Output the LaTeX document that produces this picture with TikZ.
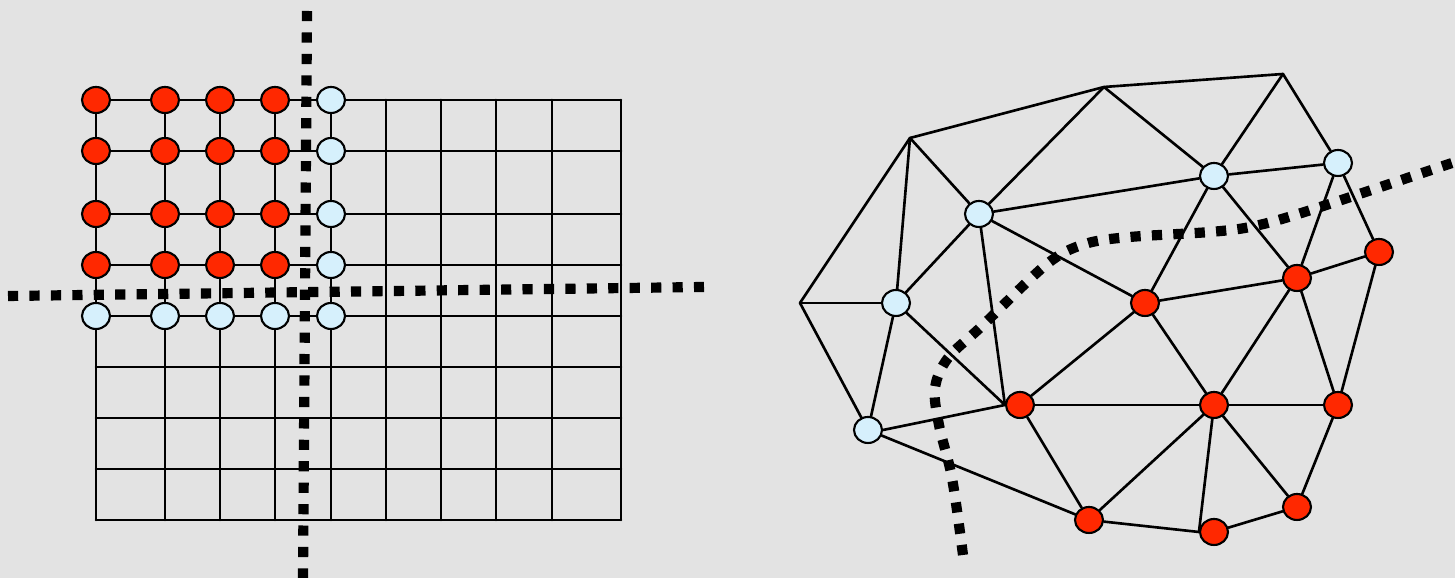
\documentclass[tikz,border=0pt]{standalone}
\usepackage{tikz}
\usetikzlibrary{shapes.geometric, positioning, calc}

\definecolor{bggray}{RGB}{227,227,227}
\definecolor{partred}{RGB}{255,40,0}
\definecolor{haloblue}{RGB}{214,240,252}

\begin{document}
\begin{tikzpicture}[x=0.1mm, y=-0.1mm, line join=round,
    mesh/.style={line width=0.75pt, line cap=round},
    own/.style={ellipse, draw, line width=0.6pt, fill=partred,
        minimum width=2.8mm, minimum height=2.6mm, inner sep=0pt},
    halo/.style={own, fill=haloblue},
    cut/.style={line width=2.9pt, dash pattern=on 2.9pt off 3.2pt}]

    % Background
    \fill[bggray] (0,0) rectangle (1455,578);
    \useasboundingbox (0,0) rectangle (1455,578);

    % Structured grid: coordinates
    \foreach \x [count=\i] in {96,165,220,275,331,386,441,496,552,621}
        \foreach \y [count=\j] in {100,151,214,265,316,367,418,469,520}
            \coordinate (g-\i-\j) at (\x,\y);

    % Grid lines
    \foreach \i in {1,...,10}
        \draw[mesh] (g-\i-1) -- (g-\i-9);
    \foreach \j in {1,...,9}
        \draw[mesh] (g-1-\j) -- (g-10-\j);

    % Owned and halo points of the grid
    \foreach \i in {1,...,4}
        \foreach \j in {1,...,4}
            \node[own] (n-\i-\j) at (g-\i-\j) {};
    \foreach \j in {1,...,5}
        \node[halo] (n-5-\j) at (g-5-\j) {};
    \foreach \i in {1,...,4}
        \node[halo] (n-\i-5) at (g-\i-5) {};

    % Cuts of the grid
    \coordinate (cutT) at (307,11);
    \coordinate (cutB) at (303,578);
    \coordinate (cutL) at (8,296);
    \coordinate (cutR) at (704,287);
    \draw[cut] (cutT) -- (cutB);
    \draw[cut] (cutL) -- (cutR);

    % Unstructured mesh: outer corners
    \coordinate (mA) at (910,138);
    \coordinate (mB) at (1104,87);
    \coordinate (mC) at (1283,74);
    \coordinate (mD) at (800,303);

    % Halo points
    \node[halo] (h1) at (979,214) {};
    \node[halo] (h2) at (896,303) {};
    \node[halo] (h3) at (868,430) {};
    \node[halo] (h4) at (1214,176) {};
    \node[halo] (h5) at (1338,163) {};

    % Owned points
    \node[own] (p1) at (1145,303) {};
    \node[own] (p2) at (1297,278) {};
    \node[own] (p3) at (1379,252) {};
    \node[own] (p4) at (1020,405) {};
    \node[own] (p5) at (1214,405) {};
    \node[own] (p6) at (1338,405) {};
    \node[own] (p7) at (1089,520) {};
    \node[own] (p8) at (1214,532) {};
    \node[own] (p9) at (1297,507) {};

    % Mesh edges
    \foreach \a/\b in {mD/mA, mA/mB, mB/mC, mC/h5, mD/h2, mD/h3,
            mA/h2, mA/h1, mB/h1, mB/h4, mC/h4,
            h1/h2, h1/h4, h1/p1, h1/p4.west, h2/h3, h2/p4.west, h3.east/p4.west, h3/p7,
            h4/h5, h4/p1, h4/p2, h5/p2, h5/p3,
            p1/p2, p1/p4, p1/p5, p2/p3, p2/p5, p2/p6, p3/p6,
            p4/p5, p4/p7, p5/p6, p5/p7, p5/p8.west, p5/p9, p6/p9, p7/p8.west, p8/p9}
        \draw[mesh] (\a) -- (\b);

    % Cut of the mesh
    \draw[cut] plot[smooth, tension=0.55] coordinates {(963,555) (952,478) (939,425)
        (935,388) (948,358) (982,326) (1047,264) (1085,244) (1130,237) (1210,232)
        (1255,226) (1314,209) (1455,162)};

\end{tikzpicture}
\end{document}
